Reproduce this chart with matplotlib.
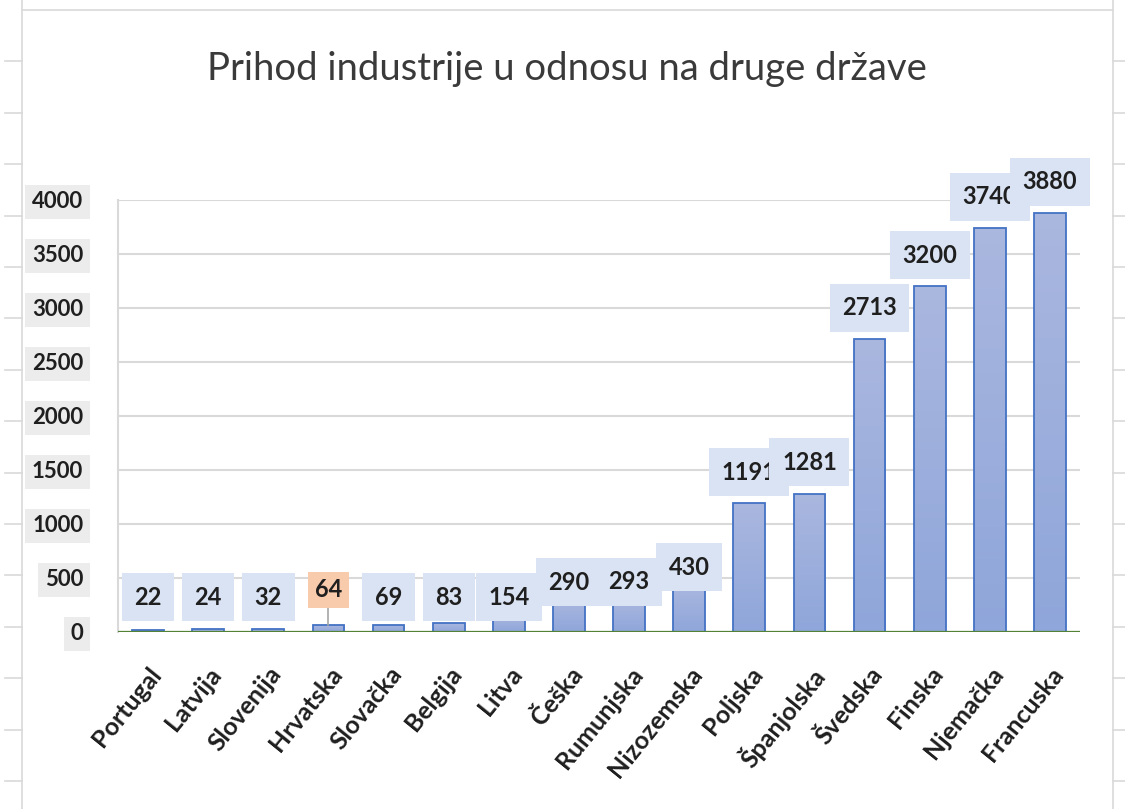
import numpy as np
import matplotlib.pyplot as plt
from matplotlib.lines import Line2D
from matplotlib.colors import LinearSegmentedColormap

drzave = ["Portugal", "Latvija", "Slovenija", "Hrvatska", "Slovačka", "Belgija",
          "Litva", "Češka", "Rumunjska", "Nizozemska", "Poljska", "Španjolska",
          "Švedska", "Finska", "Njemačka", "Francuska"]
prihod = [22, 24, 32, 64, 69, 83, 154, 290, 293, 430, 1191, 1281, 2713, 3200, 3740, 3880]
istaknuto = "Hrvatska"
y_ticks = [0, 500, 1000, 1500, 2000, 2500, 3000, 3500, 4000]

W, H = 1125, 809
fig = plt.figure(figsize=(W / 100, H / 100), dpi=100)
fig.patch.set_facecolor("white")

# okvir tablice iza grafikona
siva = "#d9d9d9"
fig.add_artist(Line2D([22 / W, 22 / W], [0, 1], color=siva, lw=1.2))
fig.add_artist(Line2D([1113 / W, 1113 / W], [0, 1], color=siva, lw=1.2))
fig.add_artist(Line2D([22 / W, 1113 / W], [1 - 10 / H, 1 - 10 / H], color=siva, lw=1.2))
for k in range(1, 16):
    yy = 1 - (10 + 51.4 * k) / H
    fig.add_artist(Line2D([5 / W, 22 / W], [yy, yy], color=siva, lw=1.2))
    fig.add_artist(Line2D([1113 / W, 1125 / W], [yy, yy], color=siva, lw=1.2))

ax = fig.add_axes([118 / W, 177 / H, (1080 - 118) / W, (632 - 200) / H])
x = np.arange(len(drzave))

bars = ax.bar(x, prihod, width=0.53, color="none", edgecolor="#4472c4", linewidth=1.3, zorder=3)
cmap = LinearSegmentedColormap.from_list("g", ["#8fa6da", "#aab7df"])
grad = np.linspace(0, 1, 100).reshape(-1, 1)
for b in bars:
    img = ax.imshow(grad, extent=[b.get_x(), b.get_x() + b.get_width(), 0, b.get_height()],
                    aspect="auto", cmap=cmap, origin="lower", zorder=2)
    img.set_clip_path(b)

ax.set_xlim(-0.5, len(drzave) - 0.5)
ax.set_ylim(0, 4000)
ax.set_yticks(y_ticks)
ax.grid(axis="y", color=siva, linewidth=1.5, zorder=0)
ax.set_axisbelow(True)
for s in ["top", "right", "bottom"]:
    ax.spines[s].set_visible(False)
ax.spines["left"].set_color(siva)
ax.spines["left"].set_linewidth(1.5)
ax.axhline(0, color="#538135", linewidth=1.6, zorder=4)

font = "Lato"
tekst = "#1f1f1f"
ax.tick_params(axis="y", length=0, pad=25)
ax.set_yticklabels([str(t) for t in y_ticks], fontsize=16, fontweight="bold",
                   family=font, color=tekst)
for lab in ax.get_yticklabels():
    lab.set_bbox(dict(facecolor="#ececec", edgecolor="none", pad=5))

ax.tick_params(axis="x", length=0, pad=22)
ax.set_xticks(x)
ax.set_xticklabels(drzave, rotation=51, ha="right", va="top", rotation_mode="anchor",
                   fontsize=18, fontweight="bold", family=font, color=tekst)

for i, v in enumerate(prihod):
    if drzave[i] == istaknuto:
        ly = 390
        ax.text(i, ly, str(v), ha="center", va="center", fontsize=17, fontweight="bold",
                family=font, color=tekst, zorder=6, clip_on=False,
                bbox=dict(facecolor="#f8cbad", edgecolor="none", pad=5))
        ax.plot([i, i], [v, ly - 130], color="#a6a6a6", lw=1.2, zorder=5)
        continue
    ly = v + 290 if v > 1000 else max(320, v + 170)
    ax.text(i, ly, str(v), ha="center", va="center", fontsize=17, fontweight="bold",
            family=font, color=tekst, zorder=6, clip_on=False,
            bbox=dict(facecolor="#dae3f3", edgecolor="none", pad=9))

fig.text(567 / W, 1 - 80 / H, "Prihod industrije u odnosu na druge države",
         ha="center", va="baseline", fontsize=27.5, family=font, color="#3a3a3a")

fig.savefig("out.png", dpi=100)
